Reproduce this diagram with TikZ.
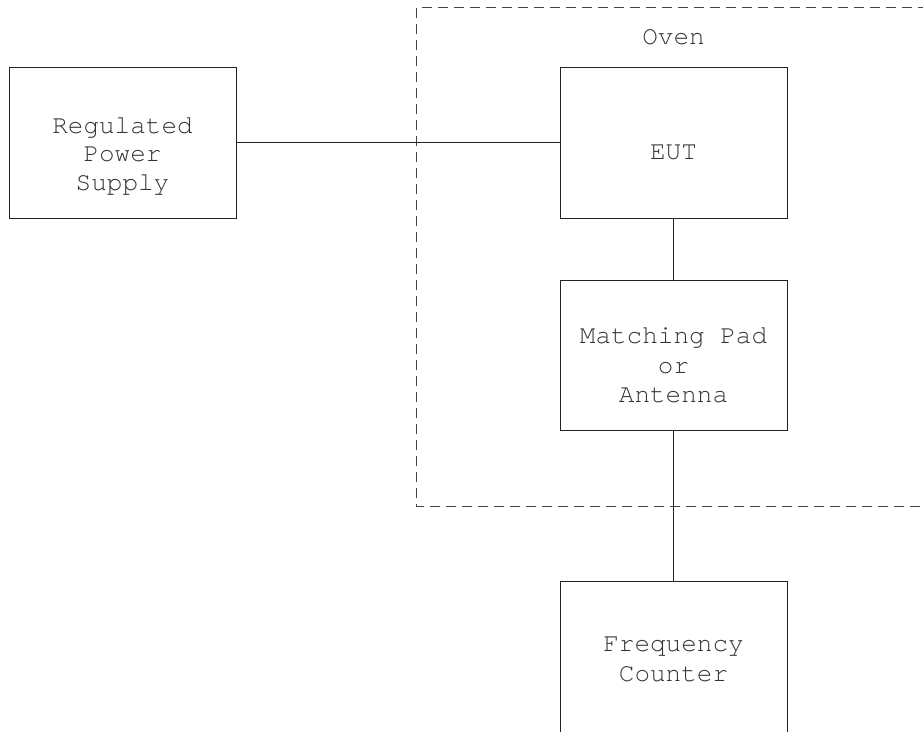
\documentclass[tikz,border=0pt]{standalone}
\usepackage{fontspec}
\setmonofont{TeX Gyre Cursor}
\definecolor{txtgray}{HTML}{333333}
\definecolor{linegray}{HTML}{222222}
\definecolor{dashgray}{HTML}{444444}
\tikzset{
  blockbox/.style={draw=linegray, line width=0.75pt, minimum width=170.25pt, minimum height=112.5pt, inner sep=0pt, outer sep=0pt},
  lbl/.style={anchor=base, inner sep=0pt, text=txtgray, font=\ttfamily\fontsize{19.5}{22}\selectfont},
  wire/.style={draw=linegray, line width=0.75pt},
  ovenbox/.style={draw=dashgray, line width=0.75pt, dash pattern=on 7.5pt off 4.5pt}
}
\begin{document}
\begin{tikzpicture}[x=0.75pt, y=-0.75pt]
\useasboundingbox (0,0) rectangle (923,731);
\clip (0,0) rectangle (923,731);
% oven
\draw[ovenbox] (960,8) -- (416,8) -- (416,506) -- (960,506);
\node[lbl] (oventxt) at (673.5,45) {Oven};
% boxes
\node[blockbox] (psu) at (122.5,143) {};
\node[blockbox] (eut) at (673.5,143) {};
\node[blockbox] (pad) at (673.5,355) {};
\node[blockbox, minimum height=135pt] (fc) at (673.5,671) {};
% labels
\node[lbl] (psu1) at (122.5,133) {Regulated};
\node[lbl] (psu2) at (122.5,161.7) {Power};
\node[lbl] (psu3) at (122.5,190) {Supply};
\node[lbl] (eut1) at (673.5,159) {EUT};
\node[lbl] (pad1) at (673.5,343) {Matching Pad};
\node[lbl] (pad2) at (673.5,373) {or};
\node[lbl] (pad3) at (673.5,402) {Antenna};
\node[lbl] (fc1) at (673.5,651) {Frequency};
\node[lbl] (fc2) at (673.5,681) {Counter};
% connectors
\draw[wire] (psu.east) -- (eut.west);
\draw[wire] (eut.south) -- (pad.north);
\draw[wire] (pad.south) -- (fc.north);
\end{tikzpicture}
\end{document}
